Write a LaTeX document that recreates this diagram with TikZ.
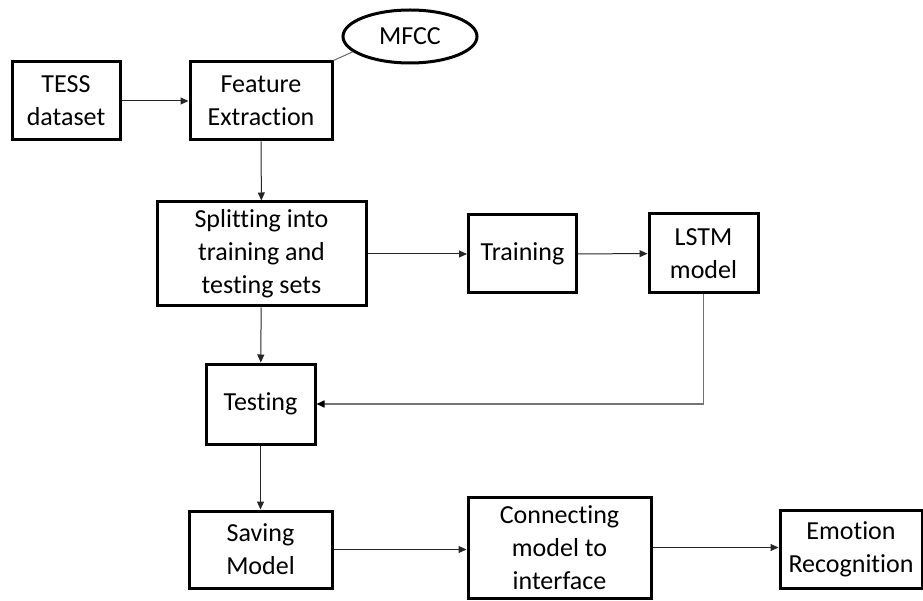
\documentclass[tikz,border=0pt]{standalone}
\usepackage{fontspec}
\setmainfont{Carlito}[Ligatures={NoCommon}]
\usetikzlibrary{arrows.meta,shapes.geometric}
\begin{document}
\begin{tikzpicture}[x=1pt,y=-1pt,
  box/.style={draw=black,line width=3pt,inner sep=0pt,align=center,
    font=\fontsize{26}{33}\selectfont,fill=white},
  oval/.style={draw=black,line width=3pt,ellipse,inner sep=0pt,
    font=\fontsize{26}{33}\selectfont},
  arr/.style={draw=black!85,line width=1pt,-{Triangle[length=8pt,width=7pt]}},
  fb/.style={draw=black!55,line width=1.6pt,-{Triangle[length=8pt,width=7pt,color=black]}}]
\useasboundingbox (0,0) rectangle (923,601);
\node[box,minimum width=108pt,minimum height=78pt] (tess) at (66,101) {TESS\\dataset};
\node[box,minimum width=142pt,minimum height=78pt] (feat) at (261,101) {Feature\\Extraction};
\node[oval,minimum width=134pt,minimum height=53pt] (mfcc) at (410,36.5) {MFCC};
\node[box,minimum width=209pt,minimum height=104pt] (split) at (261.5,254) {Splitting into\\training and\\testing sets};
\node[box,minimum width=108pt,minimum height=78pt] (train) at (522.5,254) {Training};
\node[box,minimum width=109pt,minimum height=79pt] (lstm) at (703.5,253.5) {LSTM\\model};
\node[box,minimum width=109pt,minimum height=80pt] (test) at (260.5,404) {Testing};
\node[box,minimum width=143pt,minimum height=77pt] (save) at (260.5,549.5) {Saving\\Model};
\node[box,minimum width=183pt,minimum height=101pt] (conn) at (559.5,547.5) {Connecting\\model to\\interface};
\node[box,minimum width=142pt,minimum height=78pt] (emo) at (851,549) {Emotion\\Recognition};
\draw[draw=black!60,line width=1pt] (feat.north east) -- (mfcc.195);
\draw[arr] (tess) -- (feat);
\draw[arr] (feat) -- (split);
\draw[arr] (split) -- (train);
\draw[arr] (train) -- (lstm);
\draw[arr] (split) -- (test);
\draw[fb] (lstm.south) |- (test.east);
\draw[arr] (test) -- (save);
\draw[arr] (save) -- (conn.west |- save.east);
\draw[arr] (conn) -- (emo.west |- conn.east);
\end{tikzpicture}
\end{document}
